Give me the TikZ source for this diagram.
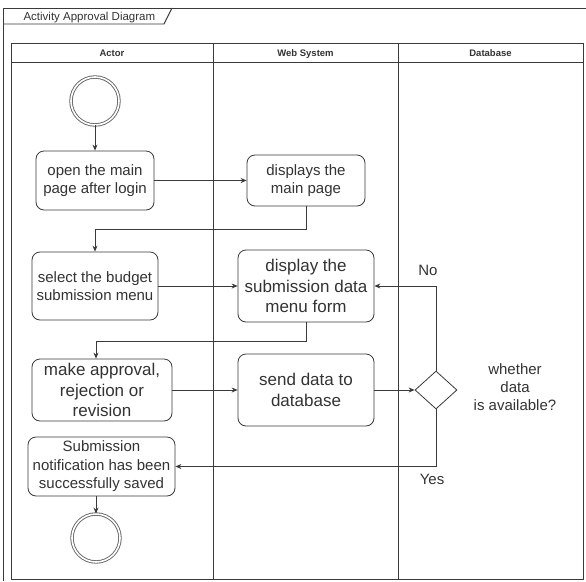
\documentclass[tikz,border=0pt]{standalone}
\usepackage{fontspec}
\setmainfont{Liberation Sans}
\usetikzlibrary{shapes.geometric,arrows.meta}
\definecolor{ink}{HTML}{333333}
\definecolor{edge}{HTML}{3A3A3A}
\definecolor{ring}{HTML}{666666}
\tikzset{
  lane/.style={draw=edge, line width=0.9pt},
  lanehead/.style={font=\fontsize{9.5}{11}\selectfont\bfseries, text=ink, anchor=base},
  act/.style={draw=edge, line width=0.8pt, rounded corners=8pt, align=center,
    text=ink, inner sep=0pt, font=\fontsize{15}{18.5}\selectfont},
  actbig/.style={act, font=\fontsize{17}{20.5}\selectfont},
  terminal/.style={circle, draw=ring, double=white, double distance=1.6pt,
    line width=0.9pt, minimum size=48pt, inner sep=0pt},
  choice/.style={diamond, draw=edge, line width=0.8pt,
    minimum width=42pt, minimum height=38pt, inner sep=0pt},
  flow/.style={draw=edge, line width=0.8pt, -{Stealth[length=6pt,width=5pt]}},
  lbl/.style={text=ink, font=\fontsize{15}{18}\selectfont, align=center}
}
\begin{document}
\begin{tikzpicture}[x=1pt, y=-1pt]
\useasboundingbox (0,0) rectangle (586,581);
\fill[white] (0,0) rectangle (586,581);

% outer frame with title tab
\draw[lane] (586,8) -- (3,8) -- (3,581);
\draw[lane] (3,24) -- (164,24) -- (172,8);
\node[anchor=base west, text=ink, font=\fontsize{11.5}{13}\selectfont] (title) at (20,20) {Activity Approval Diagram};

% swimlanes
\draw[lane] (11,43) rectangle (583,579);
\draw[lane] (11,62) -- (583,62);
\draw[lane] (213,43) -- (213,579);
\draw[lane] (398,43) -- (398,579);
\node[lanehead] (hactor) at (112,56) {Actor};
\node[lanehead] (hweb) at (305.5,56) {Web System};
\node[lanehead] (hdb) at (490.5,56) {Database};

% activities
\node[terminal] (start) at (95,101) {};
\node[act, minimum width=118pt, minimum height=59pt] (b1) at (95,180.5) {open the main\\page after login};
\node[act, minimum width=118pt, minimum height=51pt] (b2) at (306,180.5) {displays the\\main page};
\node[act, minimum width=126pt, minimum height=68pt] (b3) at (95,286) {select the budget\\submission menu};
\node[actbig, minimum width=136pt, minimum height=72pt] (b4) at (306,286) {display the\\submission data\\menu form};
\node[actbig, minimum width=140pt, minimum height=62pt] (b5) at (102,390) {make approval,\\rejection or\\revision};
\node[actbig, minimum width=136pt, minimum height=72pt] (b6) at (306,390) {send data to\\database};
\node[choice] (dec) at (436,390) {};
\node[lbl] (question) at (515,387) {whether\\data\\is available?};
\node[act, minimum width=147pt, minimum height=59pt] (b7) at (101.5,466.5) {Submission\\notification has been\\successfully saved};
\node[terminal] (end) at (96,538) {};

% control flow
\draw[flow] (start) -- (b1);
\draw[flow] (b1) -- (b2);
\draw[flow] (b2.south) -- ++(0,23) -| (b3.north);
\draw[flow] (b3) -- (b4);
\draw[flow] (b4.south) -- ++(0,19) -| ([xshift=-6pt]b5.north);
\draw[flow] (b5) -- (b6);
\draw[flow] (b6) -- (dec);
\draw[flow] (dec.north) |- (b4.east);
\draw[flow] (dec.south) |- (b7.east);
\draw[flow] (b7.south -| end.north) -- (end.north);
\node[lbl] (no) at (428,270) {No};
\node[lbl] (yes) at (432,479) {Yes};
\end{tikzpicture}
\end{document}
